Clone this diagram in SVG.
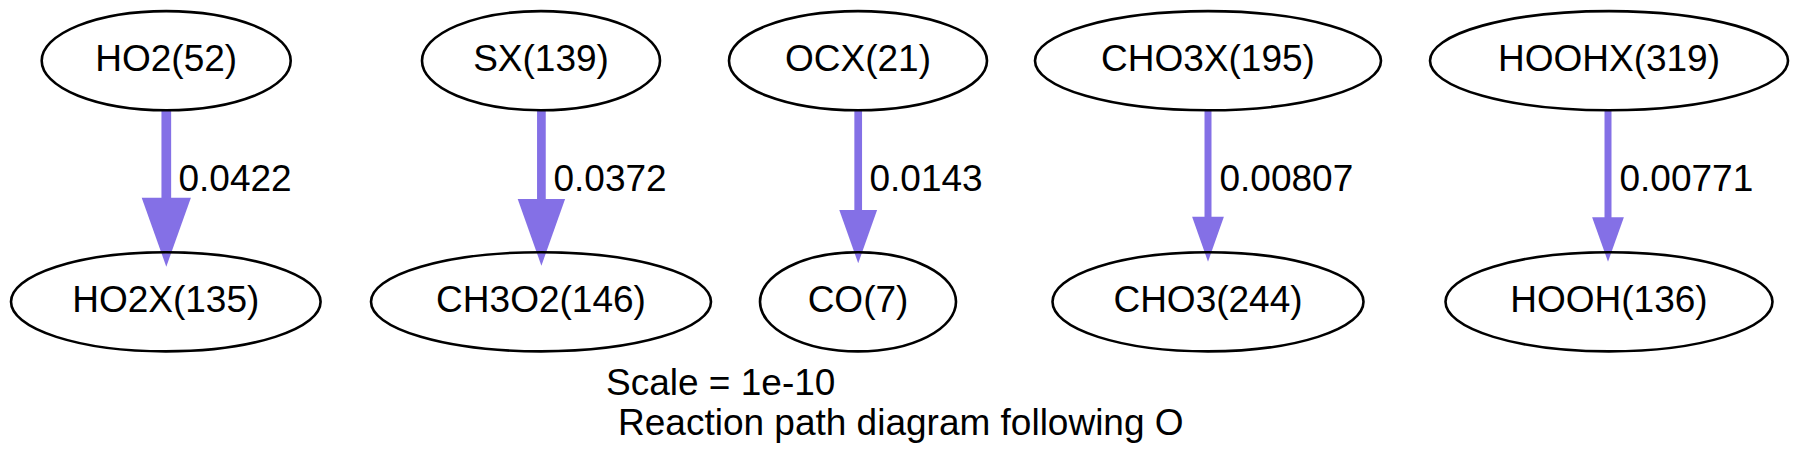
<svg xmlns="http://www.w3.org/2000/svg" width="1798" height="469" viewBox="0 0 1798 469">
<style>
  .node ellipse { fill: none; stroke: #000; stroke-width: 2.6; }
  text { font-family: "Liberation Sans", Arial, Helvetica, sans-serif; font-size: 37px; fill: #000; }
  .node text { text-anchor: middle; }
  .edge line { stroke: #8470e6; }
  .edge polygon { fill: #8470e6; stroke: none; }
</style>
<rect width="1798" height="469" fill="#fff"/>
<g id="connectors">
  <g class="edge" id="e1">
    <line x1="166.3" y1="110" x2="166.3" y2="200" stroke-width="9.7"/>
    <polygon points="141.7,197.7 190.9,197.7 166.3,266.7"/>
    <text x="178.5" y="190.7">0.0422</text>
  </g>
  <g class="edge" id="e2">
    <line x1="541.4" y1="110" x2="541.4" y2="201" stroke-width="8.7"/>
    <polygon points="517.7,199 565.1,199 541.4,265.7"/>
    <text x="553.5" y="190.7">0.0372</text>
  </g>
  <g class="edge" id="e3">
    <line x1="858.2" y1="110" x2="858.2" y2="212" stroke-width="7.7"/>
    <polygon points="839.3,210 877.1,210 858.2,263.3"/>
    <text x="869.5" y="190.7">0.0143</text>
  </g>
  <g class="edge" id="e4">
    <line x1="1208" y1="110" x2="1208" y2="219" stroke-width="7"/>
    <polygon points="1192.1,216.7 1223.9,216.7 1208,261.7"/>
    <text x="1219.5" y="190.7">0.00807</text>
  </g>
  <g class="edge" id="e5">
    <line x1="1608" y1="110" x2="1608" y2="219" stroke-width="7"/>
    <polygon points="1592.1,217.3 1623.9,217.3 1608,261.7"/>
    <text x="1619.5" y="190.7">0.00771</text>
  </g>
</g>
<g class="node" id="HO2_52"><ellipse cx="166.2" cy="60.7" rx="124.5" ry="49.6"/><text x="166.2" y="70.8">HO2(52)</text></g>
<g class="node" id="HO2X_135"><ellipse cx="165.8" cy="301.8" rx="154.8" ry="49.6"/><text x="165.8" y="312.3">HO2X(135)</text></g>
<g class="node" id="SX_139"><ellipse cx="541" cy="60.7" rx="119" ry="49.6"/><text x="541" y="70.8">SX(139)</text></g>
<g class="node" id="CH3O2_146"><ellipse cx="541" cy="301.8" rx="170" ry="49.6"/><text x="541" y="312.3">CH3O2(146)</text></g>
<g class="node" id="OCX_21"><ellipse cx="858" cy="60.7" rx="129" ry="49.6"/><text x="858" y="70.8">OCX(21)</text></g>
<g class="node" id="CO_7"><ellipse cx="858" cy="301.8" rx="98" ry="49.6"/><text x="858" y="312.3">CO(7)</text></g>
<g class="node" id="CHO3X_195"><ellipse cx="1208" cy="60.7" rx="173" ry="49.6"/><text x="1208" y="70.8">CHO3X(195)</text></g>
<g class="node" id="CHO3_244"><ellipse cx="1208" cy="301.8" rx="155.5" ry="49.6"/><text x="1208" y="312.3">CHO3(244)</text></g>
<g class="node" id="HOOHX_319"><ellipse cx="1609" cy="60.7" rx="179" ry="49.6"/><text x="1609" y="70.8">HOOHX(319)</text></g>
<g class="node" id="HOOH_136"><ellipse cx="1609" cy="301.8" rx="163.5" ry="49.6"/><text x="1609" y="312.3">HOOH(136)</text></g>
<g id="caption">
  <text x="606" y="395">Scale = 1e-10</text>
  <text x="618" y="435">Reaction path diagram following O</text>
</g>
</svg>
